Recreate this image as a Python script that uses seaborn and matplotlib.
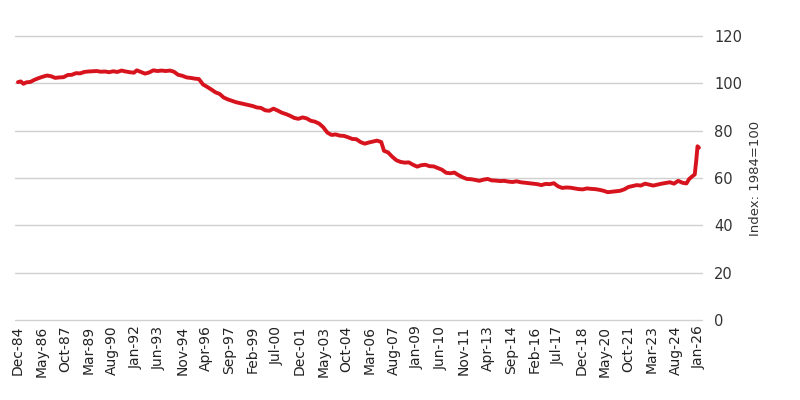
import pandas as pd
import numpy as np
import matplotlib
matplotlib.use("Agg")
import matplotlib.pyplot as plt
import matplotlib.dates as mdates
import seaborn as sns

# values (index, 1984 = 100)
dates = [
    "1984-12", "1985-02", "1985-04", "1985-06", "1985-09", "1985-12", "1986-03", "1986-06",
    "1986-09", "1986-12", "1987-03", "1987-06", "1987-09", "1987-12", "1988-03", "1988-06",
    "1988-09", "1988-12", "1989-03", "1989-06", "1989-09", "1989-12", "1990-03", "1990-06",
    "1990-09", "1990-12", "1991-03", "1991-06", "1991-09", "1991-12", "1992-02", "1992-05",
    "1992-08", "1992-11", "1993-02", "1993-05", "1993-08", "1993-11", "1994-02", "1994-05",
    "1994-08", "1994-11", "1995-02", "1995-05", "1995-08", "1995-11", "1996-02", "1996-05",
    "1996-08", "1996-11", "1997-02", "1997-05", "1997-08", "1997-11", "1998-02", "1998-05",
    "1998-08", "1998-11", "1999-02", "1999-05", "1999-08", "1999-11", "2000-02", "2000-05",
    "2000-08", "2000-11", "2001-02", "2001-05", "2001-08", "2001-11", "2002-02", "2002-05",
    "2002-08", "2002-11", "2003-02", "2003-05", "2003-08", "2003-11", "2004-02", "2004-05",
    "2004-08", "2004-11", "2005-02", "2005-05", "2005-08", "2005-11", "2006-02", "2006-05",
    "2006-08", "2006-11", "2007-01", "2007-04", "2007-07", "2007-10", "2008-01", "2008-04",
    "2008-07", "2008-10", "2009-01", "2009-04", "2009-07", "2009-10", "2010-01", "2010-04",
    "2010-07", "2010-10", "2011-01", "2011-04", "2011-07", "2011-10", "2012-01", "2012-04",
    "2012-07", "2012-10", "2013-01", "2013-04", "2013-07", "2013-10", "2014-01", "2014-04",
    "2014-07", "2014-10", "2015-01", "2015-04", "2015-07", "2015-10", "2016-01", "2016-04",
    "2016-07", "2016-10", "2017-01", "2017-04", "2017-07", "2017-10", "2018-01", "2018-04",
    "2018-07", "2018-10", "2019-01", "2019-04", "2019-07", "2019-10", "2020-01", "2020-04",
    "2020-07", "2020-10", "2021-01", "2021-04", "2021-07", "2021-10", "2022-01", "2022-04",
    "2022-07", "2022-10", "2023-01", "2023-04", "2023-07", "2023-10", "2024-01", "2024-04",
    "2024-07", "2024-10", "2025-01", "2025-04", "2025-06", "2025-08", "2025-10", "2025-11",
    "2025-12", "2026-01",
]
index_values = [
    100.5, 100.8, 99.8, 100.4, 100.6, 101.5, 102.2, 102.8,
    103.3, 103.0, 102.3, 102.5, 102.6, 103.5, 103.6, 104.3,
    104.2, 104.8, 105.0, 105.1, 105.2, 104.9, 105.0, 104.7,
    105.1, 104.8, 105.4, 105.0, 104.7, 104.5, 105.5, 104.8,
    104.1, 104.6, 105.5, 105.2, 105.4, 105.2, 105.4, 104.9,
    103.6, 103.2, 102.5, 102.3, 102.0, 101.8, 99.5, 98.5,
    97.4, 96.2, 95.5, 94.0, 93.2, 92.6, 92.0, 91.6,
    91.2, 90.8, 90.4, 89.8, 89.6, 88.6, 88.4, 89.3,
    88.5, 87.6, 87.0, 86.3, 85.4, 85.0, 85.6, 85.2,
    84.2, 83.8, 83.0, 81.5, 79.2, 78.2, 78.4, 77.9,
    77.8, 77.2, 76.5, 76.4, 75.2, 74.5, 75.0, 75.4,
    75.8, 75.2, 71.5, 70.8, 69.0, 67.5, 66.8, 66.5,
    66.6, 65.6, 64.8, 65.4, 65.6, 65.0, 64.9, 64.2,
    63.5, 62.2, 62.0, 62.3, 61.2, 60.3, 59.6, 59.5,
    59.2, 58.8, 59.3, 59.6, 59.0, 58.9, 58.7, 58.8,
    58.5, 58.3, 58.6, 58.2, 58.0, 57.8, 57.6, 57.4,
    57.0, 57.5, 57.4, 57.8, 56.5, 55.8, 56.0, 55.9,
    55.6, 55.3, 55.2, 55.6, 55.4, 55.3, 55.0, 54.6,
    54.0, 54.2, 54.4, 54.6, 55.2, 56.2, 56.6, 57.0,
    56.8, 57.6, 57.2, 56.8, 57.2, 57.6, 57.9, 58.2,
    57.6, 58.8, 58.0, 57.7, 59.6, 60.6, 61.5, 67.0,
    73.4, 72.8,
]

# x tick labels every 17 months, Dec-84 .. Jan-26
tick_dates = pd.date_range("1984-12-01", "2026-01-01", freq="17MS")

df = pd.DataFrame({"date": pd.to_datetime(dates), "index": index_values})

sns.set_style("white")
fig = plt.figure(figsize=(8, 4), dpi=100)
ax = fig.add_axes([0.019, 0.2, 0.858, 0.71])

sns.lineplot(data=df, x="date", y="index", ax=ax, color="#d7141e", lw=2.8, zorder=3)

ax.set_ylim(0, 120)
ax.set_xlim(pd.Timestamp("1984-10-01"), pd.Timestamp("2026-03-01"))
ax.set_yticks([0, 20, 40, 60, 80, 100, 120])
ax.yaxis.tick_right()
ax.yaxis.set_label_position("right")
ax.grid(axis="y", color="#d0d0d0", lw=1)
ax.grid(axis="x", visible=False)
for gl in ax.get_ygridlines():
    gl.set_clip_on(False)
for s in ax.spines.values():
    s.set_visible(False)

ax.set_xticks(tick_dates)
ax.xaxis.set_major_formatter(mdates.DateFormatter("%b-%y"))
ax.tick_params(axis="x", rotation=90, labelsize=10, length=0, pad=4, colors="#222222")
ax.tick_params(axis="y", labelsize=10.5, length=0, pad=9, colors="#333333")
ax.set_xlabel("")
ax.set_ylabel("Index: 1984=100", fontsize=9.5, color="#333333", labelpad=5)

fig.savefig("out.png", dpi=100)
